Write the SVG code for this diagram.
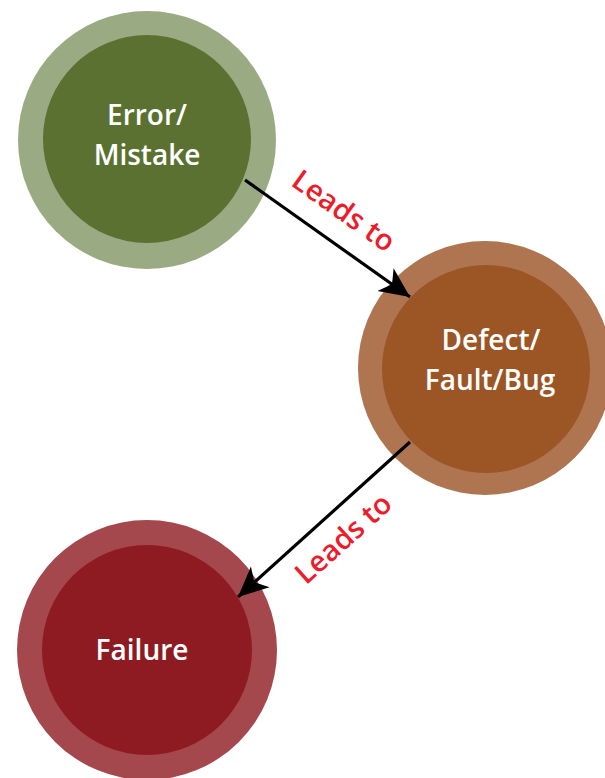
<svg xmlns="http://www.w3.org/2000/svg" width="605" height="778" viewBox="0 0 605 778">
<style>
.node-text{font-family:"Open Sans","Noto Sans",sans-serif;font-weight:600;font-size:28px;fill:#ffffff;text-anchor:middle}
.label{font-family:"Open Sans","Noto Sans",sans-serif;font-weight:600;font-size:29px;fill:#ec1c2a;text-anchor:middle}
.conn{stroke:#000;stroke-width:3.2;fill:none}
</style>
<defs>
<marker id="ah" markerUnits="userSpaceOnUse" markerWidth="40" markerHeight="40" viewBox="-30 -20 40 40" refX="0" refY="0" orient="auto">
<path d="M0,0 L-30,-14 L-22,0 L-30,14 Z" fill="#000"/>
</marker>
</defs>
<rect width="605" height="778" fill="#fff"/>
<g id="error">
<circle cx="147" cy="140" r="129" fill="#9aaa82"/>
<circle cx="147" cy="139" r="104" fill="#5a7131"/>
<text class="node-text" x="147" y="125">Error/</text>
<text class="node-text" x="147" y="165">Mistake</text>
</g>
<g id="defect">
<circle cx="485" cy="368" r="127" fill="#af7550"/>
<circle cx="486" cy="369" r="104" fill="#9c5525"/>
<text class="node-text" x="491" y="350">Defect/</text>
<text class="node-text" x="490" y="390">Fault/Bug</text>
</g>
<g id="failure">
<circle cx="147" cy="650" r="130" fill="#a4484e"/>
<circle cx="147" cy="650" r="105" fill="#8e1b21"/>
<text class="node-text" x="142" y="660">Failure</text>
</g>
<g id="connectors">
<line class="conn" x1="245" y1="180" x2="410" y2="297" marker-end="url(#ah)"/>
<line class="conn" x1="410" y1="442" x2="238" y2="597" marker-end="url(#ah)"/>
<text class="label" transform="translate(338,219) rotate(35.3)">Leads to</text>
<text class="label" transform="translate(350,546) rotate(-42)">Leads to</text>
</g>
</svg>
